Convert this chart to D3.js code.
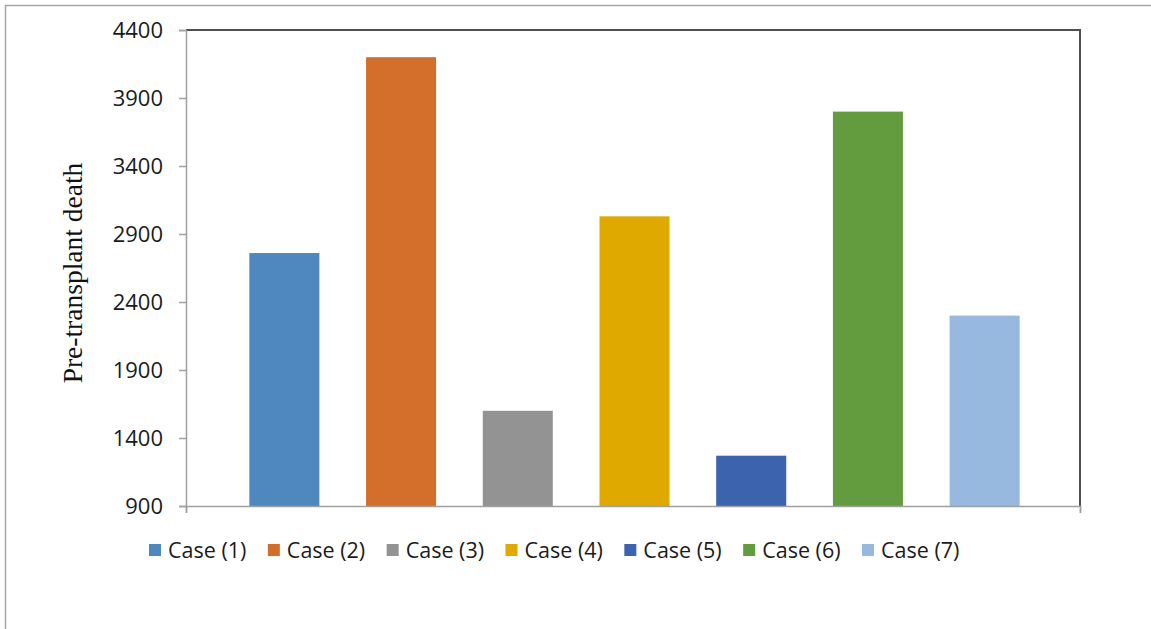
<!DOCTYPE html>
<html>
<head>
<meta charset="utf-8">
<script src="https://cdn.jsdelivr.net/npm/d3@7"></script>
<style>
  body { margin: 0; background: #fff; }
  svg { display: block; }
</style>
</head>
<body>
<div id="chart"></div>
<script>
// Chart data.
var categories = ['Case (1)', 'Case (2)', 'Case (3)', 'Case (4)', 'Case (5)', 'Case (6)', 'Case (7)'];
var values = [2760, 4200, 1600, 3030, 1270, 3800, 2300];
var colors = ['#4f88be', '#d36e2b', '#939393', '#e0a900', '#3b63ae', '#639b3f', '#98b9df'];
var yTicks = [900, 1400, 1900, 2400, 2900, 3400, 3900, 4400];
var yTitle = 'Pre-transplant death';

var W = 1151, H = 629;
var plot = { left: 186, top: 30, right: 1080, bottom: 506 };

var svg = d3.select('#chart').append('svg')
  .attr('width', W)
  .attr('height', H);

// Outer frame (only top and left edges are visible in the picture).
svg.append('path')
  .attr('d', 'M5.5,' + H + 'V5.5H' + W)
  .attr('fill', 'none')
  .attr('stroke', '#a6a6a6')
  .attr('stroke-width', 1.5);

var y = d3.scaleLinear()
  .domain([yTicks[0], yTicks[yTicks.length - 1]])
  .range([plot.bottom, plot.top]);

// Bars sit in a band a bit narrower than the plot.
var x = d3.scaleBand()
  .domain(categories)
  .range([plot.left + 40, plot.right - 37])
  .paddingInner(0.4)
  .paddingOuter(0.2);

// Bars.
svg.append('g').selectAll('rect')
  .data(values)
  .join('rect')
  .attr('x', function(d, i) { return x(categories[i]); })
  .attr('y', function(d) { return y(d); })
  .attr('width', x.bandwidth())
  .attr('height', function(d) { return y(yTicks[0]) - y(d); })
  .attr('fill', function(d, i) { return colors[i]; });

// Top and right plot border, dark.
svg.append('path')
  .attr('d', 'M' + plot.left + ',' + plot.top + 'H' + plot.right + 'V' + plot.bottom)
  .attr('fill', 'none')
  .attr('stroke', '#505050')
  .attr('stroke-width', 2);

// Left axis.
var yAxis = d3.axisLeft(y)
  .tickValues(yTicks)
  .tickSize(7)
  .tickPadding(16)
  .tickFormat(d3.format('d'));

var gy = svg.append('g')
  .attr('transform', 'translate(' + plot.left + ',0)')
  .call(yAxis);
gy.select('.domain').attr('stroke', '#a0a0a0').attr('stroke-width', 1.5);
gy.selectAll('.tick line').attr('stroke', '#a0a0a0').attr('stroke-width', 1.5);
gy.selectAll('.tick text')
  .attr('fill', '#1a1a1a')
  .style('font-family', '"Open Sans", sans-serif')
  .style('font-size', '22px');

// Bottom axis: one category, ticks only at the two ends.
var xEdge = d3.scaleLinear().domain([0, 1]).range([plot.left, plot.right]);
var gx = svg.append('g')
  .attr('transform', 'translate(0,' + plot.bottom + ')')
  .call(d3.axisBottom(xEdge).tickValues([0, 1]).tickSize(7).tickFormat(''));
gx.select('.domain').attr('stroke', '#a0a0a0').attr('stroke-width', 1.5);
gx.selectAll('.tick line').attr('stroke', '#a0a0a0').attr('stroke-width', 1.5);

// Y axis title.
svg.append('text')
  .attr('transform', 'translate(82,' + ((plot.top + plot.bottom) / 2 + 5) + ') rotate(-90)')
  .attr('text-anchor', 'middle')
  .style('font-family', '"Liberation Serif", "Times New Roman", serif')
  .style('font-size', '27.5px')
  .attr('fill', '#111')
  .text(yTitle);

// Legend along the bottom.
var legendX = d3.scalePoint()
  .domain(categories)
  .range([149, 862]);

var legend = svg.append('g').selectAll('g')
  .data(categories)
  .join('g')
  .attr('transform', function(d) { return 'translate(' + legendX(d) + ',544)'; });

legend.append('rect')
  .attr('width', 12)
  .attr('height', 12)
  .attr('fill', function(d, i) { return colors[i]; });

legend.append('text')
  .attr('x', 19)
  .attr('y', 6)
  .attr('dy', '0.36em')
  .attr('fill', '#1a1a1a')
  .style('font-family', '"Open Sans", sans-serif')
  .style('font-size', '21.5px')
  .text(function(d) { return d; });
</script>
</body>
</html>
